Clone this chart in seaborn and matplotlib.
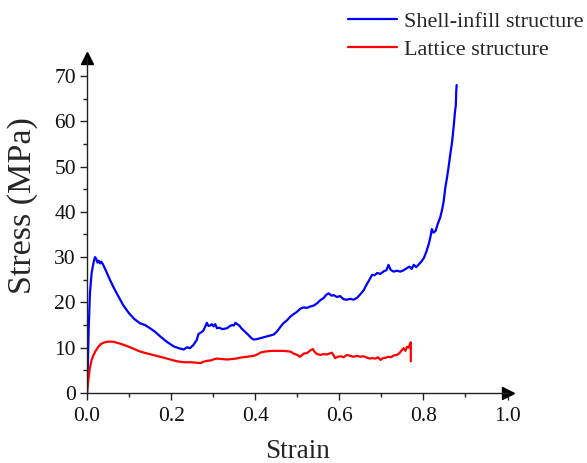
# stress-strain curves of shell-infill vs lattice structure
import pandas as pd
import numpy as np
import matplotlib
matplotlib.use("Agg")
import matplotlib.pyplot as plt
import seaborn as sns

# data
strain_shell = [0.000, 0.002, 0.004, 0.007, 0.011, 0.016, 0.019, 0.022, 0.025, 0.028,
                0.031, 0.034, 0.038, 0.045, 0.055, 0.065, 0.075, 0.086, 0.100, 0.113,
                0.126, 0.138, 0.150, 0.162, 0.174, 0.190, 0.206, 0.218, 0.230, 0.238,
                0.245, 0.253, 0.261, 0.265, 0.270, 0.276, 0.281, 0.285, 0.289, 0.293,
                0.297, 0.301, 0.305, 0.309, 0.315, 0.322, 0.333, 0.340, 0.345, 0.349,
                0.353, 0.357, 0.362, 0.368, 0.376, 0.384, 0.390, 0.396, 0.404, 0.412,
                0.420, 0.428, 0.436, 0.444, 0.452, 0.460, 0.467, 0.475, 0.483, 0.491,
                0.499, 0.507, 0.515, 0.523, 0.531, 0.539, 0.547, 0.555, 0.563, 0.569,
                0.575, 0.581, 0.587, 0.594, 0.602, 0.610, 0.618, 0.626, 0.634, 0.642,
                0.650, 0.658, 0.664, 0.671, 0.678, 0.684, 0.690, 0.698, 0.706, 0.712,
                0.717, 0.722, 0.729, 0.737, 0.745, 0.753, 0.761, 0.767, 0.772, 0.777,
                0.783, 0.789, 0.795, 0.801, 0.807, 0.813, 0.817, 0.820, 0.824, 0.829,
                0.834, 0.840, 0.844, 0.848, 0.852, 0.856, 0.860, 0.864, 0.868, 0.872,
                0.875, 0.877, 0.878, 0.879]
stress_shell = [0.0, 6.0, 14.0, 22.0, 26.5, 29.0, 30.0, 29.6, 28.8, 29.2,
                28.6, 29.0, 28.4, 27.0, 24.9, 23.0, 21.3, 19.4, 17.6, 16.3,
                15.4, 15.0, 14.3, 13.5, 12.5, 11.3, 10.3, 9.9, 9.6, 10.1,
                9.9, 10.6, 11.7, 13.0, 13.3, 13.7, 14.6, 15.5, 14.8, 14.9,
                15.2, 14.7, 15.2, 14.3, 14.4, 14.1, 14.3, 14.8, 15.0, 14.9,
                15.5, 15.2, 14.9, 14.2, 13.5, 12.8, 12.2, 11.8, 11.9, 12.1,
                12.3, 12.5, 12.7, 12.9, 13.6, 14.6, 15.4, 16.0, 16.8, 17.4,
                17.9, 18.6, 18.9, 18.8, 19.1, 19.3, 19.8, 20.5, 21.0, 21.7,
                22.0, 21.5, 21.6, 21.2, 21.4, 20.7, 20.6, 20.8, 20.6, 21.0,
                21.8, 22.7, 23.8, 24.9, 26.1, 26.0, 26.5, 26.3, 26.9, 27.1,
                28.3, 27.2, 26.8, 27.0, 26.8, 27.1, 27.6, 27.9, 27.4, 28.3,
                27.8, 28.4, 29.0, 29.8, 31.2, 33.0, 34.6, 36.2, 35.4, 35.8,
                37.3, 38.8, 40.3, 42.2, 45.3, 47.5, 50.0, 52.8, 55.3, 58.9,
                62.0, 63.5, 66.5, 68.0]

strain_lattice = [0.000, 0.002, 0.004, 0.007, 0.011, 0.015, 0.020, 0.027, 0.033, 0.039,
                  0.047, 0.055, 0.063, 0.071, 0.082, 0.094, 0.110, 0.125, 0.140, 0.157,
                  0.174, 0.194, 0.214, 0.230, 0.245, 0.260, 0.270, 0.277, 0.285, 0.295,
                  0.303, 0.309, 0.320, 0.333, 0.345, 0.355, 0.364, 0.380, 0.396, 0.405,
                  0.412, 0.420, 0.428, 0.440, 0.452, 0.467, 0.478, 0.485, 0.491, 0.500,
                  0.507, 0.515, 0.523, 0.531, 0.537, 0.541, 0.547, 0.555, 0.563, 0.570,
                  0.576, 0.582, 0.586, 0.590, 0.596, 0.604, 0.610, 0.618, 0.626, 0.634,
                  0.642, 0.650, 0.658, 0.666, 0.672, 0.678, 0.686, 0.692, 0.698, 0.704,
                  0.710, 0.717, 0.723, 0.730, 0.737, 0.743, 0.749, 0.753, 0.757, 0.761,
                  0.765, 0.768, 0.770, 0.770]
stress_lattice = [0.0, 1.8, 3.5, 5.6, 7.3, 8.3, 9.2, 10.2, 10.8, 11.1,
                  11.3, 11.35, 11.3, 11.1, 10.8, 10.4, 9.8, 9.2, 8.8, 8.4,
                  8.0, 7.5, 7.0, 6.8, 6.8, 6.7, 6.6, 6.9, 7.1, 7.2,
                  7.5, 7.6, 7.5, 7.4, 7.5, 7.6, 7.8, 8.0, 8.2, 8.5,
                  8.9, 9.1, 9.2, 9.3, 9.3, 9.3, 9.2, 9.1, 8.7, 8.4,
                  8.0, 8.7, 8.8, 9.4, 9.7, 9.1, 8.6, 8.4, 8.6, 8.5,
                  8.7, 8.9, 8.4, 7.7, 8.0, 8.1, 7.9, 8.4, 8.2, 8.0,
                  8.2, 8.0, 8.1, 7.8, 7.6, 7.7, 7.6, 7.9, 7.3, 7.7,
                  7.8, 8.0, 7.9, 8.3, 8.4, 8.8, 9.5, 9.9, 9.3, 10.2,
                  10.0, 10.8, 11.2, 7.0]

series_names = ["Shell-infill structure", "Lattice structure"]
series_colors = ["#0000FF", "#FF0000"]
x_ticks = [0.0, 0.2, 0.4, 0.6, 0.8, 1.0]
y_ticks = [0, 10, 20, 30, 40, 50, 60, 70]

df = pd.concat([
    pd.DataFrame({"Strain": strain_shell, "Stress": stress_shell, "Sample": series_names[0]}),
    pd.DataFrame({"Strain": strain_lattice, "Stress": stress_lattice, "Sample": series_names[1]}),
], ignore_index=True)

sns.set_style("ticks")
plt.rcParams["font.family"] = ["Liberation Serif", "DejaVu Serif"]

fig = plt.figure(figsize=(5.87, 4.63), dpi=100)
ax = fig.add_axes([0.1482, 0.1512, 0.8646 - 0.1482, 0.875 - 0.1512])

sns.lineplot(data=df, x="Strain", y="Stress", hue="Sample", hue_order=series_names,
             palette=series_colors, estimator=None, sort=False, linewidth=1.6,
             ax=ax, legend=False)

ax.set_xlim(0, 1.0)
ax.set_ylim(0, 74)
ax.set_xticks(x_ticks)
ax.set_xticklabels([f"{t:.1f}" for t in x_ticks])
ax.set_yticks(y_ticks)
ax.set_xticks(np.arange(0.1, 1.0, 0.2), minor=True)
ax.set_yticks(np.arange(5, 75, 10), minor=True)

sns.despine(ax=ax)
for s in ["left", "bottom"]:
    ax.spines[s].set_color("#222222")
    ax.spines[s].set_linewidth(1.0)
ax.tick_params(axis="both", which="major", length=5, width=1, color="#222222",
               labelsize=15.5, labelcolor="#111111")
ax.tick_params(axis="both", which="minor", length=3, width=1, color="#222222")
ax.tick_params(axis="x", which="major", pad=5)
ax.tick_params(axis="y", which="major", pad=3)

# arrow heads on the axes
ax.plot(1, 0, ">", color="black", ms=8, transform=ax.get_yaxis_transform(), clip_on=False)
ax.plot(0, 1, "^", color="black", ms=8, transform=ax.get_xaxis_transform(), clip_on=False)

ax.set_xlabel("Strain", fontsize=19.5, labelpad=9.5)
ax.set_ylabel("Stress (MPa)", fontsize=24.5)
ax.yaxis.set_label_coords(-0.116, 0.56)

handles = [plt.Line2D([], [], color=c, lw=1.6) for c in series_colors]
fig.legend(handles, series_names, loc="upper left", bbox_to_anchor=(348 / 587, 0.976),
           frameon=False, fontsize=16, handlelength=2.2, handletextpad=0.3,
           labelspacing=0.34, borderpad=0, borderaxespad=0)

fig.savefig("out.png", dpi=100)
